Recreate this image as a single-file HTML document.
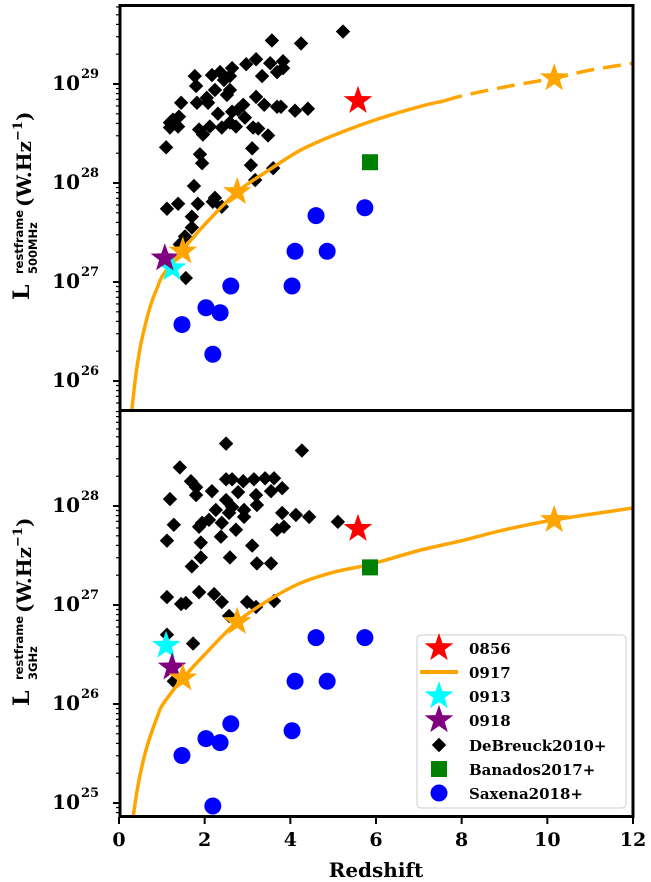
<!DOCTYPE html>
<html><head><meta charset="utf-8"><style>
html,body{margin:0;padding:0;background:#fff;}
svg{display:block;}
text{font-family:"DejaVu Serif","Liberation Serif",serif;font-weight:bold;fill:#000;}
.sans{font-family:"DejaVu Sans","Liberation Sans",sans-serif;font-weight:bold;}
</style></head><body>
<svg id="chart" width="651" height="882" viewBox="0 0 651 882" xmlns="http://www.w3.org/2000/svg">
<defs>
<clipPath id="clipTop"><rect x="120" y="6" width="512" height="404"/></clipPath>
<clipPath id="clipBot"><rect x="120" y="411" width="512" height="405"/></clipPath>
</defs>
<rect x="0" y="0" width="651" height="882" fill="#fff"/>
<g id="topPlot" clip-path="url(#clipTop)"></g>
<g id="botPlot" clip-path="url(#clipBot)"></g>
<g id="axes"></g>
<rect x="120" y="5.5" width="513" height="405" fill="none" stroke="#000" stroke-width="3"/>
<rect x="120" y="410.5" width="513" height="406" fill="none" stroke="#000" stroke-width="3"/>
<g>
<text transform="translate(29,300) rotate(-90)" font-size="22">L</text>
<text class="sans" transform="translate(23,274) rotate(-90)" font-size="11.5">restframe</text>
<text class="sans" transform="translate(37,274) rotate(-90)" font-size="11.5">500MHz</text>
<text transform="translate(31,207) rotate(-90)" font-size="20">(W.Hz<tspan font-size="13" dy="-9">−1</tspan><tspan dy="9">)</tspan></text>
</g>
<g>
<text transform="translate(29,706) rotate(-90)" font-size="22">L</text>
<text class="sans" transform="translate(23,680) rotate(-90)" font-size="11.5">restframe</text>
<text class="sans" transform="translate(37,680) rotate(-90)" font-size="11.5">3GHz</text>
<text transform="translate(31,613) rotate(-90)" font-size="20">(W.Hz<tspan font-size="13" dy="-9">−1</tspan><tspan dy="9">)</tspan></text>
</g>
<text x="376" y="877" font-size="20" text-anchor="middle">Redshift</text>
<g id="legend">
<rect x="417" y="635" width="209" height="173" rx="4" fill="#fff" fill-opacity="0.85" stroke="#ccc" stroke-width="1"/>
</g>
</svg>
<script>
const debZTop = [5.23,4.25,3.57,3.83,3.53,3.69,3.34,3.83,3.20,2.97,2.64,2.36,2.17,1.77,1.80,2.45,2.59,2.59,2.24,2.05,1.82,2.08,2.52,2.90,2.78,2.94,2.64,2.59,2.40,2.12,1.87,1.96,1.26,1.38,1.19,1.40,1.45,1.10,1.19,3.13,2.73,3.25,3.39,3.78,4.11,4.41,3.69,3.20,2.31,3.11,3.48,3.60,3.18,3.08,1.89,1.94,1.75,1.70,1.84,1.70,1.54,1.42,1.12,1.38,2.24,2.19,2.40,1.56];
const debLTop = [29.53,29.41,29.44,29.23,29.21,29.12,29.08,29.16,29.25,29.20,29.16,29.12,29.09,29.08,28.98,29.04,29.08,28.94,28.94,28.86,28.81,28.81,28.89,28.79,28.74,28.66,28.72,28.61,28.56,28.57,28.54,28.49,28.64,28.57,28.61,28.67,28.81,28.36,28.56,28.56,28.57,28.55,28.79,28.77,28.73,28.75,28.77,28.87,28.70,28.35,28.48,28.15,28.03,28.18,28.29,28.20,27.97,27.66,27.79,27.55,27.46,27.38,27.74,27.79,27.85,27.81,27.76,27.04];
const debZBot = [2.50,4.27,1.42,1.68,1.80,1.80,1.19,2.17,2.50,2.64,2.90,3.15,3.41,3.62,3.81,3.55,3.20,3.22,2.78,2.50,2.26,2.64,2.92,2.92,2.57,2.40,1.94,1.87,2.10,1.28,3.81,4.13,4.44,3.69,3.85,2.73,2.38,1.12,1.91,3.11,1.91,1.70,2.59,3.22,3.55,5.11,1.12,1.45,1.56,1.87,2.22,2.40,2.99,3.20,3.62,2.57,1.12,1.73,1.28];
const debLBot = [28.63,28.56,28.39,28.25,28.19,28.11,28.07,28.15,28.27,28.27,28.25,28.27,28.28,28.28,28.18,28.15,28.11,28.01,28.14,28.06,27.96,27.99,27.96,27.89,27.93,27.83,27.83,27.79,27.86,27.81,27.93,27.91,27.89,27.76,27.79,27.76,27.69,27.65,27.63,27.60,27.48,27.39,27.48,27.42,27.42,27.84,27.08,27.01,27.02,27.13,27.11,27.03,27.03,26.98,27.04,26.89,26.70,26.61,26.23];
const saxZ = [1.47,2.03,2.36,2.19,2.61,4.04,4.11,4.86,4.60,5.74];
const saxLTop = [26.57,26.74,26.69,26.27,26.96,26.96,27.31,27.31,27.67,27.75];
const saxLBot = [25.48,25.65,25.61,24.97,25.80,25.73,26.23,26.23,26.67,26.67];
const banZ = [5.86];
const banLTop = [28.21];
const banLBot = [27.38];
const starZ0856 = [5.58]; const starLTop0856 = [28.83]; const starLBot0856 = [27.77];
const starZ0917 = [1.49,2.76,10.16]; const starLTop0917 = [27.31,27.91,29.06]; const starLBot0917 = [26.26,26.83,27.86];
const starZ0913 = [1.24]; const starLTop0913 = [27.14]; const starZBot0913 = [1.10]; const starLBot0913 = [26.59];
const starZ0918 = [1.07]; const starLTop0918 = [27.24]; const starZBot0918 = [1.24]; const starLBot0918 = [26.37];
const curveZTop = [0.30,0.4,0.5,0.62,0.75,0.9,1.0,1.25,1.5,2.0,2.76,3.5,4.23,5.0,6.0,7.0,7.6,8.0,9.0,10.16,11.0,12.0];
const curveLTop = [25.71,26.08,26.35,26.58,26.78,26.95,27.05,27.20,27.33,27.58,27.91,28.13,28.33,28.48,28.64,28.77,28.83,28.88,28.97,29.06,29.14,29.21];
const curveZBot = [0.33,0.42,0.5,0.62,0.75,0.9,1.0,1.25,1.49,2.0,2.76,3.5,4.23,5.0,5.86,7.0,8.0,9.0,10.16,12.0];
const curveLBot = [24.86,25.12,25.30,25.52,25.70,25.88,25.98,26.13,26.26,26.50,26.83,27.05,27.22,27.33,27.41,27.55,27.65,27.76,27.86,27.98];
const xTicks = [0,2,4,6,8,10,12];
const yTicksTop = [26,27,28,29];
const yTicksBot = [25,26,27,28];
const legendLabels = ["0856","0917","0913","0918","DeBreuck2010+","Banados2017+","Saxena2018+"];

const NS = "http://www.w3.org/2000/svg";
const xs = z => 119 + z / 12 * 514;
const ysTop = l => 84 + (29 - l) * 99;
const ysBot = l => 506 + (28 - l) * 99;
function mk(tag, attrs, parent){const e=document.createElementNS(NS,tag);for(const k in attrs)e.setAttribute(k,attrs[k]);parent.appendChild(e);return e;}
function starPts(cx,cy,R){let p=[];for(let i=0;i<10;i++){const r=i%2?R*0.4:R;const a=-Math.PI/2+i*Math.PI/5;p.push((cx+r*Math.cos(a)).toFixed(1)+","+(cy+r*Math.sin(a)).toFixed(1));}return p.join(" ");}
function smoothPath(pts){
  if(pts.length<2)return "";
  let d="M"+pts[0][0].toFixed(1)+","+pts[0][1].toFixed(1);
  for(let i=0;i<pts.length-1;i++){
    const p0=pts[Math.max(0,i-1)],p1=pts[i],p2=pts[i+1],p3=pts[Math.min(pts.length-1,i+2)];
    const c1x=p1[0]+(p2[0]-p0[0])/6,c1y=p1[1]+(p2[1]-p0[1])/6;
    const c2x=p2[0]-(p3[0]-p1[0])/6,c2y=p2[1]-(p3[1]-p1[1])/6;
    d+=" C"+c1x.toFixed(1)+","+c1y.toFixed(1)+" "+c2x.toFixed(1)+","+c2y.toFixed(1)+" "+p2[0].toFixed(1)+","+p2[1].toFixed(1);
  }
  return d;
}
const topG = document.getElementById("topPlot");
const botG = document.getElementById("botPlot");
const axesG = document.getElementById("axes");

function diamond(g,x,y){const s=7.2;const e=mk("polygon",{points:`${x},${y-s} ${x+s},${y} ${x},${y+s} ${x-s},${y}`,fill:"#000"},g);

}
function circle(g,x,y){const e=mk("circle",{cx:x,cy:y,r:8.5,fill:"#0000ff"},g);

}
function square(g,x,y){const e=mk("rect",{x:x-8,y:y-8,width:16,height:16,fill:"#008000"},g);

}
function star(g,x,y,c,name){const e=mk("polygon",{points:starPts(x,y,15),fill:c},g);

}
function curve(g,zs,ls,ys,dashFrom){
  let solid=[],dash=[];
  zs.forEach((z,i)=>{const p=[xs(z),ys(ls[i])];
    if(dashFrom===undefined||z<=dashFrom)solid.push(p);
    if(dashFrom!==undefined&&z>=dashFrom)dash.push(p);});
  const a=mk("path",{d:smoothPath(solid),fill:"none",stroke:"#ffa500","stroke-width":3.5,"stroke-linejoin":"round"},g);
  
  
  if(dash.length){const b=mk("path",{d:smoothPath(dash),fill:"none",stroke:"#ffa500","stroke-width":3.5,"stroke-dasharray":"18,9"},g);
  
  }
}
debZTop.forEach((z,i)=>diamond(topG,xs(z),ysTop(debLTop[i])));
curve(topG,curveZTop,curveLTop,ysTop,7.6);
saxZ.forEach((z,i)=>circle(topG,xs(z),ysTop(saxLTop[i])));
banZ.forEach((z,i)=>square(topG,xs(z),ysTop(banLTop[i])));
starZ0856.forEach((z,i)=>star(topG,xs(z),ysTop(starLTop0856[i]),"#ff0000","star-0856"));
starZ0913.forEach((z,i)=>star(topG,xs(z),ysTop(starLTop0913[i]),"#00ffff","star-0913"));
starZ0918.forEach((z,i)=>star(topG,xs(z),ysTop(starLTop0918[i]),"#800080","star-0918"));
starZ0917.forEach((z,i)=>star(topG,xs(z),ysTop(starLTop0917[i]),"#ffa500","star-0917"));
debZBot.forEach((z,i)=>diamond(botG,xs(z),ysBot(debLBot[i])));
curve(botG,curveZBot,curveLBot,ysBot);
saxZ.forEach((z,i)=>circle(botG,xs(z),ysBot(saxLBot[i])));
banZ.forEach((z,i)=>square(botG,xs(z),ysBot(banLBot[i])));
starZ0856.forEach((z,i)=>star(botG,xs(z),ysBot(starLBot0856[i]),"#ff0000","star-0856"));
starZBot0913.forEach((z,i)=>star(botG,xs(z),ysBot(starLBot0913[i]),"#00ffff","star-0913"));
starZBot0918.forEach((z,i)=>star(botG,xs(z),ysBot(starLBot0918[i]),"#800080","star-0918"));
starZ0917.forEach((z,i)=>star(botG,xs(z),ysBot(starLBot0917[i]),"#ffa500","star-0917"));

xTicks.forEach(t=>{const x=xs(t);
  mk("line",{x1:x,x2:x,y1:817,y2:824,stroke:"#000","stroke-width":2},axesG);
  const tx=mk("text",{x:x,y:846,"font-size":19,"text-anchor":"middle"},axesG);tx.textContent=t;
  
  
});
function yAxis(ticks,ys,lo,hi){
  for(let d=Math.floor(lo);d<=Math.ceil(hi);d++){
    for(let m=1;m<10;m++){const l=d+Math.log10(m);if(l<lo||l>hi)continue;const y=ys(l);
      mk("line",{x1:m===1?113:116,x2:120,y1:y,y2:y,stroke:"#000","stroke-width":m===1?2:1.2},axesG);}
  }
  ticks.forEach(t=>{const y=ys(t);
    const tx=mk("text",{x:80,y:y+6,"font-size":20,"text-anchor":"end"},axesG);tx.textContent="10";
    
    
    const sp=mk("text",{x:81,y:y-6,"font-size":13},axesG);sp.textContent=String(t);
    
    
  });
}
yAxis(yTicksTop,ysTop,25.71,29.8);
yAxis(yTicksBot,ysBot,24.86,28.96);

const lg=document.getElementById("legend");
const ly=[648,672,696,720,745,769,793];
star(lg,439,ly[0],"#ff0000","legend-marker-0856");
const ll=mk("line",{x1:420,x2:458,y1:ly[1],y2:ly[1],stroke:"#ffa500","stroke-width":4},lg);


star(lg,439,ly[2],"#00ffff","legend-marker-0913");
star(lg,439,ly[3],"#800080","legend-marker-0918");
diamond(lg,439,ly[4]);
square(lg,439,ly[5]);
circle(lg,439,ly[6]);
legendLabels.forEach((s,i)=>{const t=mk("text",{x:469,y:ly[i]+6,"font-size":15},lg);t.textContent=s;

});
</script>
</body></html>
